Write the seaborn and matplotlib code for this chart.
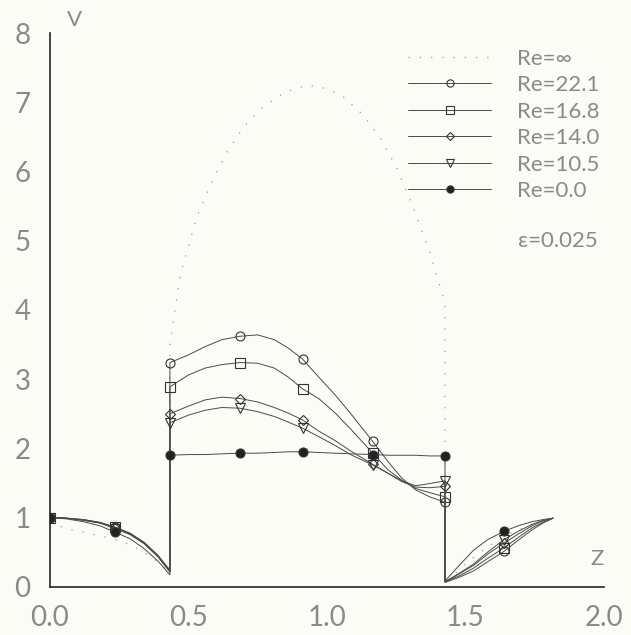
import numpy as np
import pandas as pd
import matplotlib
matplotlib.use("Agg")
import matplotlib.pyplot as plt
import seaborn as sns

# Axial positions: left section, middle section, right section
z_left = [0.0, 0.06, 0.12, 0.18, 0.235, 0.29, 0.34, 0.39, 0.433]
z_mid = [0.433, 0.5, 0.56, 0.62, 0.686, 0.75, 0.81, 0.86, 0.912, 0.97,
         1.03, 1.09, 1.165, 1.22, 1.27, 1.32, 1.37, 1.426]
z_right = [1.426, 1.48, 1.53, 1.58, 1.639, 1.69, 1.74, 1.78, 1.816]

# Velocity profiles V(z) for each Reynolds number
re221_left = [1.0, 0.99, 0.97, 0.93, 0.86, 0.77, 0.64, 0.45, 0.24]
re221_mid = [3.24, 3.35, 3.47, 3.57, 3.62, 3.64, 3.57, 3.45, 3.29, 3.03,
             2.77, 2.48, 2.10, 1.81, 1.57, 1.40, 1.30, 1.22]
re221_right = [0.06, 0.14, 0.23, 0.36, 0.51, 0.67, 0.82, 0.92, 0.99]

re168_left = [1.0, 0.99, 0.97, 0.93, 0.86, 0.77, 0.64, 0.45, 0.23]
re168_mid = [2.89, 3.06, 3.16, 3.21, 3.24, 3.23, 3.16, 3.03, 2.86, 2.72,
             2.51, 2.26, 1.93, 1.69, 1.54, 1.42, 1.36, 1.30]
re168_right = [0.07, 0.16, 0.27, 0.41, 0.56, 0.71, 0.85, 0.93, 0.99]

re140_left = [1.0, 0.99, 0.96, 0.92, 0.85, 0.76, 0.63, 0.44, 0.22]
re140_mid = [2.50, 2.61, 2.70, 2.74, 2.72, 2.67, 2.59, 2.51, 2.41, 2.25,
             2.11, 1.95, 1.77, 1.64, 1.52, 1.44, 1.43, 1.45]
re140_right = [0.07, 0.19, 0.31, 0.47, 0.63, 0.76, 0.88, 0.95, 0.99]

re105_left = [1.0, 0.99, 0.96, 0.92, 0.84, 0.75, 0.62, 0.43, 0.21]
re105_mid = [2.37, 2.48, 2.55, 2.59, 2.58, 2.53, 2.46, 2.38, 2.29, 2.17,
             2.04, 1.90, 1.76, 1.64, 1.53, 1.46, 1.49, 1.53]
re105_right = [0.07, 0.20, 0.33, 0.50, 0.68, 0.80, 0.90, 0.96, 0.99]

re0_left = [1.0, 0.98, 0.94, 0.88, 0.79, 0.69, 0.55, 0.37, 0.17]
re0_mid = [1.90, 1.91, 1.91, 1.92, 1.93, 1.93, 1.94, 1.95, 1.95, 1.94,
           1.93, 1.92, 1.91, 1.90, 1.90, 1.90, 1.89, 1.89]
re0_right = [0.08, 0.32, 0.53, 0.68, 0.80, 0.88, 0.94, 0.97, 0.99]

# Inviscid limit (Re = infinity)
zinf = [0.0, 0.07, 0.15, 0.23, 0.30, 0.37, 0.433,
        0.433, 0.47, 0.53, 0.59, 0.643, 0.70, 0.77, 0.85, 0.927, 1.0, 1.06,
        1.13, 1.19, 1.25, 1.31, 1.37, 1.426,
        1.426, 1.50, 1.58, 1.66, 1.74, 1.816]
vinf = [0.92, 0.83, 0.76, 0.69, 0.59, 0.42, 0.20,
        3.50, 4.50, 5.35, 5.90, 6.31, 6.65, 6.94, 7.15, 7.25, 7.20, 7.08,
        6.82, 6.50, 6.07, 5.50, 4.85, 4.10,
        0.05, 0.33, 0.58, 0.77, 0.90, 0.98]

labels = ["Re=22.1", "Re=16.8", "Re=14.0", "Re=10.5", "Re=0.0"]
markers = ["o", "s", "D", "v", "o"]
faces = ["none", "none", "none", "none", "#222222"]
msizes = [6.5, 6.5, 5.5, 6.5, 6.5]
series = [
    (re221_left, re221_mid, re221_right),
    (re168_left, re168_mid, re168_right),
    (re140_left, re140_mid, re140_right),
    (re105_left, re105_mid, re105_right),
    (re0_left, re0_mid, re0_right),
]

sns.set_style("white")
bg = "#fcfcf6"
plt.rcParams["font.family"] = ["Lato", "DejaVu Sans"]
txt = "#8a8a8a"

fig = plt.figure(figsize=(6.31, 6.35), dpi=100, facecolor=bg)
ax = fig.add_axes([0.0792, 0.0761, 0.878, 0.8715], facecolor=bg)

z_all = z_left + z_mid + z_right
n_l, n_m = len(z_left), len(z_mid)
# marker positions: z=0, 0.235, mid start, 0.686, 0.912, 1.165, mid end, 1.639
mark_idx = [0, 4, n_l, n_l + 4, n_l + 8, n_l + 12, n_l + n_m - 1, n_l + n_m + 4]

# Re = infinity, sparse dotted
sns.lineplot(x=zinf, y=vinf, sort=False, estimator=None, ax=ax,
             color="#9a9a9a", lw=0.9, linestyle=(0, (1, 8)), label="Re=\u221e")

for (l, m, r), lab, mk, fc, ms in zip(series, labels, markers, faces, msizes):
    v_all = l + m + r
    sns.lineplot(x=z_all, y=v_all, sort=False, estimator=None, ax=ax,
                 color="#4a4a4a", lw=0.7, marker=mk, markersize=ms,
                 markerfacecolor=fc, markeredgecolor="#333333",
                 markeredgewidth=0.8, markevery=mark_idx, label=lab)

ax.set_xlim(0, 2.0)
ax.set_ylim(0, 8)
ax.set_xticks([0.0, 0.5, 1.0, 1.5, 2.0])
ax.set_xticklabels(["0.0", "0.5", "1.0", "1.5", "2.0"])
ax.set_yticks(range(0, 9))
ax.set_xticks(np.arange(0, 2.01, 0.1), minor=True)
ax.set_yticks(np.arange(0, 8.01, 0.5), minor=True)
ax.tick_params(axis="both", which="major", direction="out", length=6,
               width=0.8, color="#333333", labelsize=20, labelcolor=txt)
ax.tick_params(axis="both", which="minor", direction="out", length=3,
               width=0.6, color="#333333")
ax.tick_params(axis="x", pad=7)
ax.tick_params(axis="y", pad=8)

for s in ["top", "right"]:
    ax.spines[s].set_visible(False)
for s in ["left", "bottom"]:
    ax.spines[s].set_color("#2a2020")
    ax.spines[s].set_linewidth(1.2)

ax.set_xlabel("")
ax.set_ylabel("")
ax.text(0.045, 1.024, "V", transform=ax.transAxes, fontsize=16, color=txt,
        ha="center", va="center")
ax.text(0.987, 0.05, "Z", transform=ax.transAxes, fontsize=16, color=txt,
        ha="center", va="center")
ax.text(0.845, 0.625, "\u03b5=0.025", transform=ax.transAxes, fontsize=16,
        color=txt, ha="left", va="center")

leg = ax.legend(loc="upper left", bbox_to_anchor=(0.631, 0.988), frameon=False,
                fontsize=16, handlelength=3.7, handletextpad=1.2,
                labelspacing=0.29, borderaxespad=0, numpoints=1,
                markerscale=0.8)
for t in leg.get_texts():
    t.set_color(txt)

fig.savefig("out.png", dpi=100, facecolor=bg)
